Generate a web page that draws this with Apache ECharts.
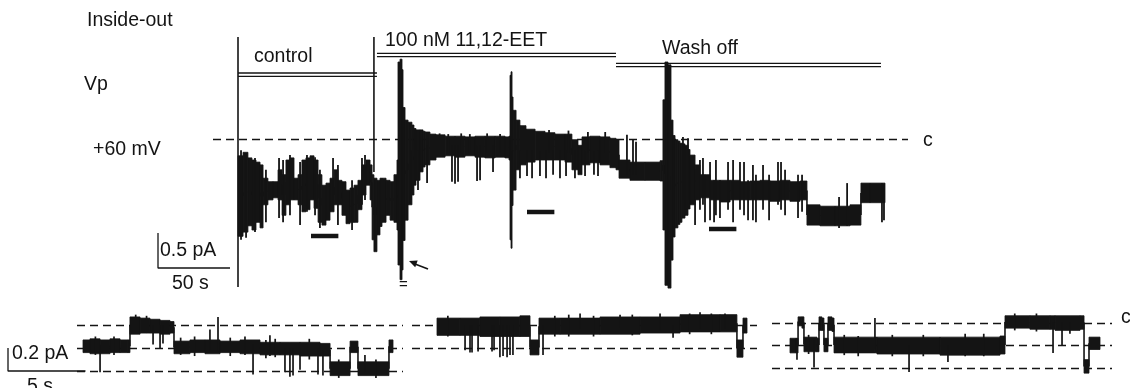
<!DOCTYPE html>
<html><head><meta charset="utf-8">
<script src="https://cdn.jsdelivr.net/npm/echarts@6/dist/echarts.min.js"></script>
<style>html,body{margin:0;padding:0;background:#fff}#c{width:1130px;height:388px}</style>
</head><body><div id="c"></div>
<script>
// ================= DATA =================
// Top (slow) record: [time s, upper envelope pA, lower envelope pA], current relative to closed level c
const topTrace = [
[0,-0.24,-1.39],[3.5,-0.19,-1.33],[6.9,-0.27,-1.24],[9.7,-0.30,-1.30],[12.5,-0.33,-1.19],[15.3,-0.37,-1.27],
[17.4,-0.56,-0.94],[20.8,-0.61,-0.87],[24.3,-0.61,-0.84],[27.8,-0.44,-0.87],[30.6,-0.51,-1.09],[33.3,-0.30,-0.94],
[36.1,-0.27,-0.87],[38.9,-0.56,-0.87],[41.7,-0.51,-0.94],[44.4,-0.30,-1.04],[47.2,-0.27,-1.01],[50,-0.24,-0.87],
[52.8,-0.30,-0.99],[55.6,-0.51,-1.19],[58.3,-0.66,-1.23],[61.1,-0.63,-1.16],[63.9,-0.56,-1.04],[66.7,-0.44,-0.94],
[69.4,-0.59,-0.94],[72.2,-0.61,-1.09],[75,-0.73,-1.21],[77.8,-0.70,-1.19],[80.6,-0.66,-1.19],[83.3,-0.59,-1.01],
[86.1,-0.37,-0.80],[88.9,-0.30,-0.66],[91.7,-0.37,-0.87],[93.1,-0.51,-1.44],[94.4,-0.56,-1.61],[96.5,-0.59,-1.37],
[98.6,-0.56,-1.25],[100,-0.56,-1.19],[102.8,-0.59,-1.09],[105.6,-0.61,-1.16],[108.3,-0.51,-1.19],[110.4,-0.30,-1.30],
[111.1,1.10,-1.80],[112.5,1.14,-2.01],[113.9,0.99,-1.87],[114.6,0.45,-1.45],[116,0.27,-1.16],[118.1,0.24,-0.94],
[120.8,0.20,-0.80],[122.2,0.15,-0.66],[123.6,0.13,-0.59],[126.4,0.13,-0.47],[128.5,0.11,-0.40],[129.9,0.10,-0.37],
[133.3,0.07,-0.30],[137.5,0.06,-0.26],[143.8,0.04,-0.24],[150.7,0.04,-0.26],[157.6,0.03,-0.24],[164.6,0.04,-0.26],
[171.5,0.04,-0.27],[178.5,0.04,-0.26],[185.4,0.03,-0.27],[188.2,0.04,-0.30],[188.9,0.91,-1.44],[189.6,0.96,-1.56],
[190.3,0.60,-0.95],[191,0.41,-0.73],[193.1,0.27,-0.44],[195.8,0.19,-0.37],[200,0.14,-0.33],[206.3,0.11,-0.30],
[213.2,0.09,-0.30],[220.1,0.07,-0.30],[227.1,0.07,-0.33],[231.9,-0.01,-0.44],[236.1,-0.09,-0.51],[238.9,0.03,-0.37],
[244.4,0.04,-0.34],[251.4,0.03,-0.37],[258.3,0.01,-0.41],[262.5,-0.01,-0.44],[264.6,-0.30,-0.56],[272.2,-0.33,-0.59],
[282.6,-0.33,-0.59],[293.1,-0.31,-0.60],[295.1,0.56,-1.30],[296.5,1.10,-2.09],[298.6,1.06,-2.13],[300.7,0.27,-1.73],
[302.1,0.05,-1.40],[303.5,-0.01,-1.27],[305.5,-0.03,-1.22],[306.9,-0.06,-1.19],[308.3,-0.07,-1.13],[310.4,-0.09,-1.09],
[312.5,-0.15,-1.00],[313.9,-0.23,-0.94],[317.4,-0.37,-0.87],[320.8,-0.51,-0.84],[327.8,-0.59,-0.87],[334.7,-0.59,-0.90],
[341.7,-0.59,-0.87],[348.6,-0.61,-0.87],[355.6,-0.60,-0.87],[362.5,-0.59,-0.87],[369.4,-0.60,-0.89],[376.4,-0.59,-0.87],
[383.3,-0.61,-0.89],[390.3,-0.60,-0.87],[395.1,-0.94,-1.23],[404.2,-0.96,-1.24],[414.6,-0.96,-1.24],[425,-0.94,-1.23],
[432.6,-0.63,-0.91],[438.9,-0.63,-0.91],[449.3,-0.63,-0.91]
];
// brief openings / closings in the top record: [time s, top pA, bottom pA]
const topSpikes = [
[2.1,-0.16,-1.44],[5.6,-0.23,-1.41],[11.8,-0.27,-1.33],[16.7,-0.37,-1.23],[19.4,-0.44,-1.19],[28.5,-0.27,-1.13],
[31.3,-0.30,-1.19],[36.1,-0.23,-1.09],[43.1,-0.33,-1.23],[47.9,-0.23,-1.04],[53.5,-0.26,-1.09],[56.9,-0.44,-1.27],
[66,-0.27,-0.94],[69.4,-0.37,-1.23],[79.2,-0.59,-1.30],[86.1,-0.27,-0.94],[88.2,-0.23,-0.87],
[120.1,-0.16,-0.87],[125,-0.16,-0.73],[131.3,-0.09,-0.63],[140,0.08,-0.2],[146,0.07,-0.2],[148.6,-0.09,-0.61],
[150.7,-0.09,-0.64],[152.8,-0.09,-0.61],[155,0.08,-0.2],[161,0.07,-0.2],[166,-0.09,-0.60],[168.1,-0.09,-0.59],
[173,0.08,-0.2],[177.1,-0.09,-0.47],[182,0.07,-0.2],[195.8,-0.16,-0.56],[200.7,-0.16,-0.53],[204.2,-0.16,-0.56],
[209.7,-0.16,-0.53],[213.9,-0.16,-0.56],[216,0.13,-0.2],[218.8,-0.16,-0.51],[223.6,-0.16,-0.56],[227.8,-0.16,-0.53],
[229.5,0.12,-0.2],[234,-0.16,-0.56],[241,-0.16,-0.53],[243,0.1,-0.2],[247.2,-0.16,-0.51],[250,-0.16,-0.53],
[255,0.1,-0.2],[270.1,0.06,-0.51],[274.3,-0.01,-0.51],[276.4,-0.04,-0.51],
[309,0.03,-0.87],[312.5,0.01,-0.87],[317.4,-0.44,-1.23],[320.8,-0.30,-1.01],[322.9,-0.27,-0.94],[324.3,-0.51,-1.19],
[327.8,-0.33,-1.16],[330.6,-0.59,-1.19],[331.9,-0.30,-1.09],[334.7,-0.59,-1.13],[340.3,-0.33,-1.01],[343.8,-0.30,-1.19],
[348.6,-0.33,-1.01],[351.4,-0.33,-1.09],[354.2,-0.59,-1.16],[357.6,-0.37,-1.16],[359.7,-0.51,-1.19],[364.6,-0.37,-1.01],
[368.8,-0.51,-1.16],[375,-0.33,-0.94],[377.1,-0.33,-1.01],[379.9,-0.44,-1.09],[388.9,-0.51,-1.13],[391.7,-0.51,-1.04],
[417.4,-0.83,-1.27],[423,-0.63,-1.24],[447.2,-0.63,-1.19],[448.6,-0.66,-1.16]
];
const topLevels = [0];                       // closed level "c"
const periodNames = ['control', '100 nM 11,12-EET', 'Wash off'];
const periodStart = [0, 96.5, 262.5];        // s
const periodEnd   = [96.5, 262.5, 446.5];    // s
const solutionChangeT = [0, 94.4];           // s
const windowStart = [50.7, 200.7, 327.1];    // s, segments expanded below
const windowLen = 19;                        // s
const topScale = {pA: 0.5, s: 50};

// Expanded segments: [time s, top pA, bottom pA]
const p1Trace = [
[0,-0.13,-0.24],[0.45,-0.12,-0.25],[1.1,-0.13,-0.25],[1.74,-0.12,-0.24],[2.39,-0.13,-0.24],[2.9,-0.13,-0.24],
[3.03,0.07,-0.08],[3.68,0.06,-0.07],[4.32,0.05,-0.07],[4.97,0.04,-0.08],[5.61,0.03,-0.07],
[5.87,-0.14,-0.25],[6.9,-0.13,-0.24],[7.87,-0.13,-0.25],[8.84,-0.14,-0.24],[10.13,-0.13,-0.25],[11.42,-0.15,-0.26],
[12.71,-0.15,-0.26],[14,-0.15,-0.27],[15.29,-0.16,-0.27],[15.94,-0.32,-0.44],[17.23,-0.14,-0.24],
[17.74,-0.32,-0.44],[19.74,-0.13,-0.24],[20,-0.13,-0.24]
];
const p1Spikes = [
[1.1,-0.17,-0.41],[0.8,-0.1,-0.26],[2.0,-0.1,-0.26],[3.4,0.09,-0.07],[4.1,0.08,-0.07],[4.52,0,-0.17],[4.97,0,-0.2],
[5.16,0,-0.16],[6.3,-0.11,-0.26],[7.2,-0.1,-0.27],[8.19,-0.04,-0.22],[8.71,0.07,-0.23],[9.5,-0.11,-0.27],
[10.45,-0.1,-0.26],[10.97,-0.17,-0.43],[11.8,-0.13,-0.29],[12.06,-0.09,-0.27],[12.4,-0.12,-0.28],[13.03,-0.2,-0.41],
[13.35,-0.2,-0.45],[13.55,-0.2,-0.44],[14,-0.2,-0.39],[14.6,-0.12,-0.3],[15.16,-0.2,-0.43],[15.48,-0.22,-0.44],
[16.5,-0.3,-0.46],[18.19,-0.26,-0.41],[18.9,-0.3,-0.46]
];
const p1Levels = [0, -0.2, -0.4];
const p2Trace = [
[0,0.06,-0.09],[1.48,0.06,-0.09],[2.77,0.07,-0.1],[4.06,0.07,-0.1],[5.35,0.08,-0.1],[6,-0.13,-0.26],
[6.58,0.06,-0.08],[7.94,0.06,-0.08],[10.52,0.07,-0.08],[13.1,0.07,-0.07],[15.68,0.09,-0.06],
[18.26,0.09,-0.06],[19.35,-0.13,-0.28],[19.74,0.06,-0.07],[20,0.06,-0.07]
];
const p2Spikes = [
[0.7,0.08,-0.1],[1.81,0,-0.22],[2.13,0,-0.24],[2.26,0,-0.24],[2.65,0,-0.23],[3.55,0,-0.23],[3.68,0,-0.22],[4.06,0,-0.28],
[4.26,0,-0.27],[4.52,0,-0.28],[4.71,0,-0.26],[4.9,0,-0.26],[6.84,0,-0.26],[7.6,0.08,-0.1],[8.5,0.09,-0.1],
[9.23,0.1,-0.03],[10.1,0.08,-0.1],[11.81,0.09,-0.03],[12.6,0.09,-0.09],[14.39,0.1,-0.05],[15.23,0,-0.11],
[16.3,0.1,-0.08],[16.97,0.11,-0.03],[17.7,0.1,-0.08],[18.58,0.1,-0.03]
];
const p2Levels = [0, -0.2];
const p3Trace = [
[0,-0.14,-0.27],[0.39,-0.14,-0.27],[0.52,0.05,-0.03],[0.77,0.05,-0.05],[0.9,-0.13,-0.26],[1.74,-0.14,-0.26],
[1.87,0.05,-0.07],[2.06,0.04,-0.07],[2.19,-0.14,-0.26],[2.32,-0.14,-0.26],[2.45,0.05,-0.07],[2.71,0.04,-0.08],
[2.84,-0.13,-0.27],[5.48,-0.13,-0.27],[5.61,-0.13,-0.28],[9.68,-0.13,-0.29],[13.55,-0.12,-0.28],
[13.87,0.06,-0.05],[15.48,0.06,-0.06],[16.77,0.06,-0.06],[17.1,0.06,-0.07],[18.71,0.06,-0.06],
[18.97,-0.33,-0.45],[19.29,-0.13,-0.24],[20,-0.13,-0.24]
];
const p3Spikes = [
[0.45,-0.14,-0.33],[1.2,-0.11,-0.28],[1.55,-0.14,-0.4],[3.5,-0.11,-0.29],[4.4,-0.12,-0.3],[5.48,0.04,-0.24],
[6.6,-0.11,-0.3],[7.68,-0.2,-0.44],[8.6,-0.11,-0.3],[10.19,-0.2,-0.35],[11.3,-0.1,-0.3],[12.5,-0.1,-0.3],
[14.5,0.08,-0.07],[15.9,0.08,-0.08],[16.97,0,-0.27],[17.55,0,-0.2],[18.06,0,-0.1]
];
const p3Levels = [0, -0.2, -0.4];
const bottomScale = {pA: 0.2, s: 5};

// ================= LAYOUT =================
const INK = '#141414';
const FONT = "'Liberation Sans', Arial, Helvetica, sans-serif";
const FS = 19.5;
const L = [
  {left:150, top:30,  width:780, height:270, x0:238, pxPerS:1.44, y0:139,   pxPerPA:70,    dash:[213, 908]},
  {left:0,   top:300, width:410, height:88,  x0:83,  pxPerS:15.5, y0:325,   pxPerPA:115,   dash:[77, 403]},
  {left:410, top:300, width:350, height:88,  x0:437, pxPerS:15.5, y0:325,   pxPerPA:115,   dash:[412, 757]},
  {left:765, top:300, width:365, height:88,  x0:790, pxPerS:15.5, y0:322.5, pxPerPA:112.5, dash:[772, 1112]}
];
const pxT = (g, px) => (px - L[g].x0) / L[g].pxPerS;
const pyV = (g, py) => (L[g].y0 - py) / L[g].pxPerPA;

const grids = L.map(g => ({left:g.left, top:g.top, width:g.width, height:g.height, containLabel:false}));
const xAxes = L.map((g,i) => ({type:'value', gridIndex:i, show:false,
  min:(g.left - g.x0)/g.pxPerS, max:(g.left + g.width - g.x0)/g.pxPerS}));
const yAxes = L.map((g,i) => ({type:'value', gridIndex:i, show:false,
  min:(g.y0 - g.top - g.height)/g.pxPerPA, max:(g.y0 - g.top)/g.pxPerPA}));

function dashSeries(g, levels) {
  const a = pxT(g, L[g].dash[0]), b = pxT(g, L[g].dash[1]);
  return {type:'custom', xAxisIndex:g, yAxisIndex:g, silent:true, data: levels.map(v => [v]),
    renderItem:(p, api) => {
      const v = api.value(0), s = api.coord([a, v]), e = api.coord([b, v]);
      return {type:'line', shape:{x1:s[0], y1:Math.round(s[1]) + 0.5, x2:e[0], y2:Math.round(e[1]) + 0.5},
        style:{stroke:INK, lineWidth:1.4, lineDash:[8,5]}};
    }};
}
// each sample holds its envelope until the next sample (sample-and-hold), joined by a transition stroke
function bandSeries(g, tr) {
  const data = [];
  for (let i = 0; i < tr.length - 1; i++) data.push([tr[i][0], tr[i][1], tr[i][2], tr[i+1][0], tr[i+1][1], tr[i+1][2]]);
  return {type:'custom', xAxisIndex:g, yAxisIndex:g, silent:true, data,
    renderItem:(p, api) => {
      const t0 = api.value(0), t1 = api.value(3);
      const a = api.coord([t0, api.value(1)]), c = api.coord([t1, api.value(2)]);
      const m0 = api.coord([t1, (api.value(1) + api.value(2)) / 2]), m1 = api.coord([t1, (api.value(4) + api.value(5)) / 2]);
      return {type:'group', children:[
        {type:'rect', shape:{x:a[0], y:a[1], width:c[0]-a[0], height:c[1]-a[1]}, style:{fill:INK, stroke:INK, lineWidth:0.8}},
        {type:'line', shape:{x1:m0[0], y1:m0[1], x2:m1[0], y2:m1[1]}, style:{stroke:INK, lineWidth:1.6}}]};
    }};
}
function spikeSeries(g, sp, w) {
  return {type:'custom', xAxisIndex:g, yAxisIndex:g, silent:true, data: sp,
    renderItem:(p, api) => {
      const a = api.coord([api.value(0), api.value(1)]), b = api.coord([api.value(0), api.value(2)]);
      return {type:'line', shape:{x1:a[0], y1:a[1], x2:b[0], y2:b[1]}, style:{stroke:INK, lineWidth:w}};
    }};
}
function scaleBar(g, cornerPx, cornerPy, sc) {
  const t = pxT(g, cornerPx), v = pyV(g, cornerPy);
  return {type:'line', xAxisIndex:g, yAxisIndex:g, silent:true, symbol:'none',
    lineStyle:{color:INK, width:1.3}, data:[[t, v + sc.pA], [t, v], [t + sc.s, v]]};
}

const markTopPy = 37, markBottomPy = [287, 172];
const markSeries = {type:'custom', xAxisIndex:0, yAxisIndex:0, silent:true,
  data: solutionChangeT.map((t,i) => [t, pyV(0, markTopPy), pyV(0, markBottomPy[i])]),
  renderItem:(p, api) => {
    const a = api.coord([api.value(0), api.value(1)]), b = api.coord([api.value(0), api.value(2)]);
    return {type:'line', shape:{x1:a[0], y1:a[1], x2:b[0], y2:b[1]}, style:{stroke:INK, lineWidth:1.6}};
  }};
const periodBarPy = [73, 53.3, 63.3];
const periodSeries = {type:'custom', xAxisIndex:0, yAxisIndex:0, silent:true,
  data: periodStart.map((s,i) => [s, periodEnd[i], i]),
  renderItem:(p, api) => {
    const x1 = api.coord([api.value(0), 0])[0], x2 = api.coord([api.value(1), 0])[0], y = periodBarPy[api.value(2)];
    return {type:'group', children:[
      {type:'line', shape:{x1, y1:y, x2, y2:y}, style:{stroke:INK, lineWidth:1.3}},
      {type:'line', shape:{x1, y1:y+3.4, x2, y2:y+3.4}, style:{stroke:INK, lineWidth:1.3}}]};
  }};
const windowBarPy = [236, 212, 229];
const windowSeries = {type:'custom', xAxisIndex:0, yAxisIndex:0, silent:true,
  data: windowStart.map((s,i) => [s, s + windowLen, i]),
  renderItem:(p, api) => {
    const x1 = api.coord([api.value(0), 0])[0], x2 = api.coord([api.value(1), 0])[0], y = windowBarPy[api.value(2)];
    return {type:'line', shape:{x1, y1:y, x2, y2:y}, style:{stroke:INK, lineWidth:4.5}};
  }};

const series = [
  dashSeries(0, topLevels), dashSeries(1, p1Levels), dashSeries(2, p2Levels), dashSeries(3, p3Levels),
  bandSeries(0, topTrace), spikeSeries(0, topSpikes, 1.8),
  bandSeries(1, p1Trace), spikeSeries(1, p1Spikes, 1.7),
  bandSeries(2, p2Trace), spikeSeries(2, p2Spikes, 1.7),
  bandSeries(3, p3Trace), spikeSeries(3, p3Spikes, 1.7),
  markSeries, periodSeries, windowSeries,
  scaleBar(0, 158, 268, topScale), scaleBar(1, 8, 371, bottomScale)
];

const txt = (text, x, y, extra) => Object.assign({type:'text', x, y, silent:true,
  style:Object.assign({text, fill:INK, font:FS + 'px ' + FONT, textVerticalAlign:'middle', verticalAlign:'middle'}, extra || {})});
const graphic = [
  txt('Inside-out', 87, 21), txt('Vp', 84, 84.5), txt('+60 mV', 93, 150),
  txt(periodNames[0], 254, 56.5), txt(periodNames[1], 385, 40.5), txt(periodNames[2], 662, 49),
  txt('c', 923, 141), txt('c', 1121, 318),
  txt(topScale.pA + ' pA', 160, 251), txt(topScale.s + ' s', 172, 284),
  txt(bottomScale.pA + ' pA', 12, 354), txt(bottomScale.s + ' s', 27, 387),
  txt('=', 403.5, 284.5, {textAlign:'center', align:'center', font:'15px ' + FONT}),
  {type:'line', silent:true, shape:{x1:428, y1:269, x2:415, y2:264}, style:{stroke:INK, lineWidth:1.6}},
  {type:'polygon', silent:true, shape:{points:[[409,261],[417.7,260.6],[415.2,267.2]]}, style:{fill:INK}}
];

const chart = echarts.init(document.getElementById('c'), null, {renderer:'canvas'});
chart.setOption({animation:false, backgroundColor:'#fff', grid:grids, xAxis:xAxes, yAxis:yAxes, series, graphic});
</script></body></html>
